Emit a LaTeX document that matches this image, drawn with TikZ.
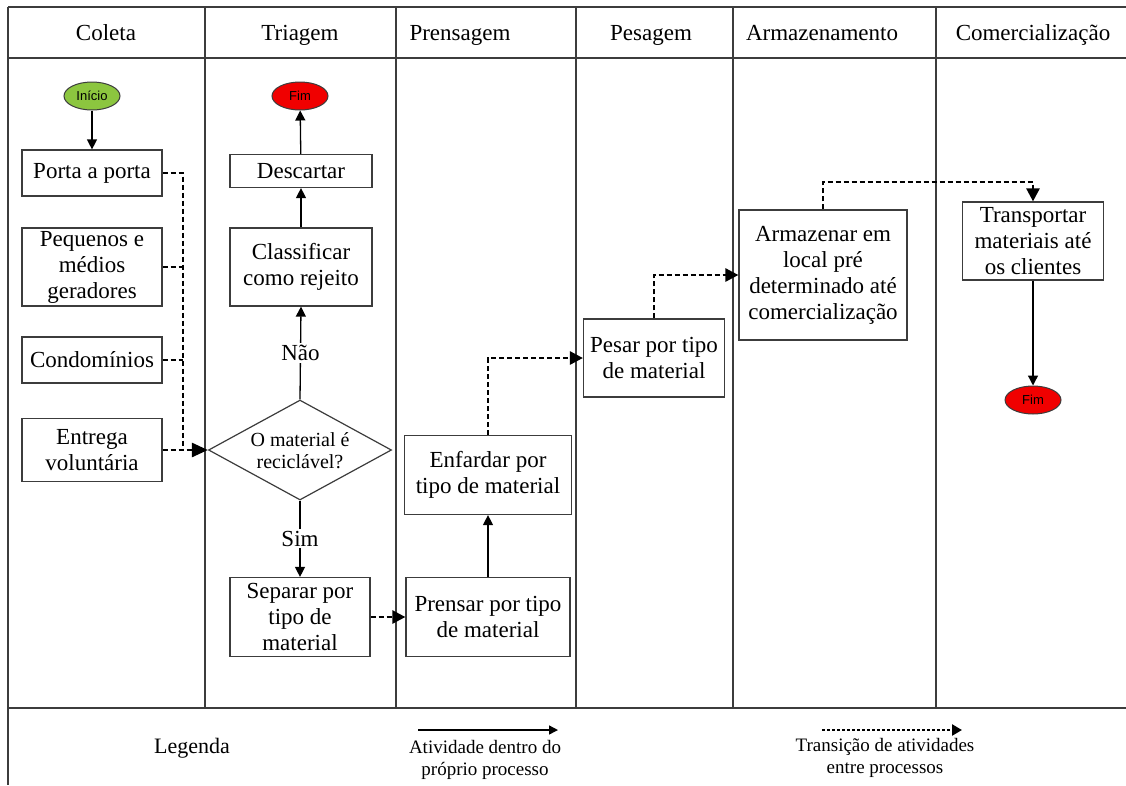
\documentclass[tikz,border=0pt]{standalone}
\usepackage{fontspec}
\setmainfont{Liberation Serif}
\newfontfamily\sansf{Liberation Sans}
\usetikzlibrary{arrows.meta,shapes.geometric}
\definecolor{linecol}{RGB}{60,60,60}
\definecolor{startgreen}{RGB}{140,198,63}
\definecolor{endred}{RGB}{240,0,0}
\begin{document}
\begin{tikzpicture}[x=1pt,y=-1pt,
  frame/.style={draw=linecol,line width=1.3pt},
  box/.style={draw=linecol,line width=1.2pt,fill=white,inner sep=0pt,align=center,font=\fontsize{23}{26}\selectfont},
  term/.style={ellipse,draw=linecol,line width=1pt,minimum width=56pt,minimum height=28pt,inner sep=0pt,font=\sansf\fontsize{13}{15}\selectfont},
  flow/.style={draw=black,line width=1.3pt,-{Triangle[length=10pt,width=10pt]}},
  trans/.style={draw=black,line width=2.6pt,dash pattern=on 5pt off 3pt,-{Triangle[length=13pt,width=13pt]}},
  transline/.style={draw=black,line width=2.6pt,dash pattern=on 5pt off 3pt},
  hdr/.style={font=\fontsize{23}{26}\selectfont,inner sep=0pt,anchor=base},
  lbl/.style={fill=white,inner sep=2pt,font=\fontsize{23}{26}\selectfont},
  legtxt/.style={align=center,inner sep=0pt,font=\fontsize{19}{22}\selectfont}
  ]
\useasboundingbox (0,0) rectangle (1126,785);
% frame
\draw[frame] (8,7) -- (1126,7);
\draw[frame] (8,58) -- (1126,58);
\draw[frame] (8,708) -- (1126,708);
\draw[frame] (8,7) -- (8,785);
\foreach \x in {205,396,576,733,936}{\draw[frame] (\x,7) -- (\x,708);}
% headers
\node[hdr] (h1) at (106,40) {Coleta};
\node[hdr] (h2) at (300,40) {Triagem};
\node[hdr] (h3) at (460,40) {Prensagem};
\node[hdr] (h4) at (651,40) {Pesagem};
\node[hdr] (h5) at (822,40) {Armazenamento};
\node[hdr] (h6) at (1033,40) {Comercialização};
% Coleta
\node[term,fill=startgreen] (inicio) at (92,96) {Início};
\node[box,minimum width=140pt,minimum height=46pt] (porta) at (92,173) {Porta a porta};
\node[box,minimum width=140pt,minimum height=78pt] (pequenos) at (92,267) {Pequenos e\\médios\\geradores};
\node[box,minimum width=140pt,minimum height=46pt] (condo) at (92,360) {Condomínios};
\node[box,minimum width=140pt,minimum height=63pt] (entrega) at (92,450) {Entrega\\voluntária};
% Triagem
\node[term,fill=endred] (fim1) at (300,96) {Fim};
\node[box,minimum width=142pt,minimum height=33pt] (descartar) at (301,171) {Descartar};
\node[box,minimum width=142pt,minimum height=78pt] (classif) at (301,267) {Classificar\\como rejeito};
\node[diamond,draw=linecol,line width=1.2pt,fill=white,inner sep=0pt,minimum width=183pt,minimum height=100pt] (diam) at (300,450) {};
\node[align=center,inner sep=0pt,font=\fontsize{20}{22}\selectfont] (diamtxt) at (300,451) {O material é\\reciclável?};
\node[box,minimum width=140pt,minimum height=79pt] (separar) at (300,617) {Separar por\\tipo de\\material};
% Prensagem
\node[box,minimum width=164pt,minimum height=79pt] (prensar) at (488,617) {Prensar por tipo\\de material};
\node[box,minimum width=167pt,minimum height=79pt] (enfardar) at (488,475) {Enfardar por\\tipo de material};
% Pesagem
\node[box,minimum width=141pt,minimum height=78pt] (pesar) at (654,358) {Pesar por tipo\\de material};
% Armazenamento
\node[box,minimum width=168pt,minimum height=130pt] (armazenar) at (823,275) {Armazenar em\\local pré\\determinado até\\comercialização};
% Comercializacao
\node[box,minimum width=141pt,minimum height=78pt] (transportar) at (1033,241) {Transportar\\materiais até\\os clientes};
\node[term,fill=endred] (fim2) at (1033,400) {Fim};
% connectors
\draw[flow] (inicio) -- (porta);
\draw[flow] (classif) -- (descartar);
\draw[flow] (descartar) -- (fim1);
\draw[flow] (diam.north) -- node[lbl] (nao) {Não} (classif.south);
\draw[flow] (diam.south) -- node[lbl] (sim) {Sim} (separar.north);
\coordinate (j) at (183,450);
\draw[transline] (porta.east) -| (j);
\draw[transline] (pequenos.east) -- (pequenos.east -| j);
\draw[transline] (condo.east) -- (condo.east -| j);
\draw[trans,-{Triangle[length=16pt,width=14pt]}] (entrega.east) -- (diam.west);
\draw[trans] (separar) -- (prensar);
\draw[flow] (prensar) -- (enfardar);
\draw[trans] (enfardar.north) |- (pesar.west);
\draw[trans] (pesar.north) |- (armazenar.west);
\coordinate (tr) at (1033,182);
\draw[trans] (armazenar.north) |- (tr) -- (transportar.north);
\draw[flow] (transportar) -- (fim2);
% legend
\node[inner sep=0pt,font=\fontsize{22}{26}\selectfont] (legenda) at (192,748) {Legenda};
\coordinate (la1) at (418,730);
\coordinate (la2) at (558,730);
\draw[line width=1.4pt,-{Triangle[length=9pt,width=9pt]}] (la1) -- (la2);
\node[legtxt] (leg1) at (485,760) {Atividade dentro do\\próprio processo};
\coordinate (lb1) at (822,730);
\coordinate (lb2) at (962,730);
\draw[line width=2.4pt,dash pattern=on 3pt off 2pt,-{Triangle[length=10pt,width=11pt]}] (lb1) -- (lb2);
\node[legtxt] (leg2) at (885,758) {Transição de atividades\\entre processos};
\end{tikzpicture}
\end{document}
